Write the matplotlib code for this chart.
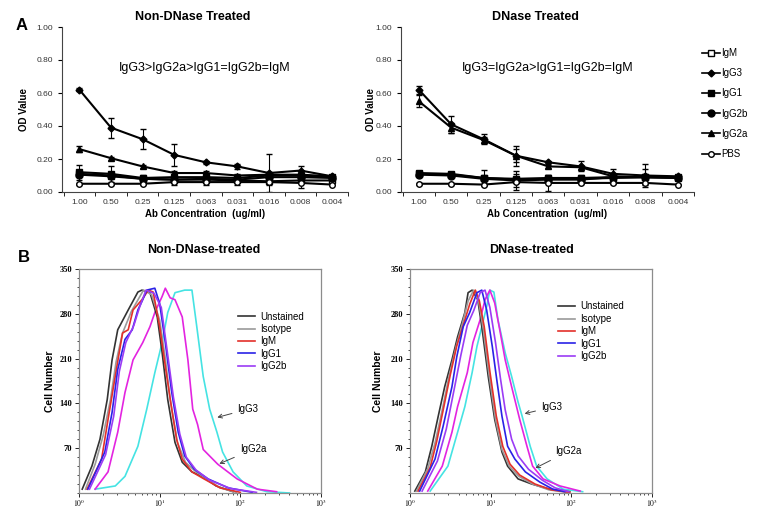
import numpy as np
import matplotlib
matplotlib.use('Agg')
import matplotlib.pyplot as plt
from matplotlib.lines import Line2D
from matplotlib.ticker import FixedLocator, NullFormatter

plt.rcParams['font.family'] = ['Liberation Sans', 'DejaVu Sans']
plt.rcParams['mathtext.fontset'] = 'stix'

# ---------------- Panel A data (ELISA OD values) ----------------
conc_labels = ['1.00', '0.50', '0.25', '0.125', '0.063', '0.031', '0.016', '0.008', '0.004']

nd_igm = [0.11, 0.10, 0.08, 0.075, 0.075, 0.07, 0.065, 0.07, 0.07]
nd_igg3 = [0.62, 0.39, 0.32, 0.225, 0.18, 0.155, 0.115, 0.13, 0.095]
nd_igg1 = [0.12, 0.11, 0.085, 0.09, 0.09, 0.085, 0.10, 0.10, 0.09]
nd_igg2b = [0.105, 0.095, 0.08, 0.075, 0.08, 0.075, 0.09, 0.09, 0.085]
nd_igg2a = [0.26, 0.205, 0.155, 0.115, 0.115, 0.10, 0.105, 0.105, 0.095]
nd_pbs = [0.05, 0.05, 0.05, 0.06, 0.06, 0.06, 0.06, 0.055, 0.045]
nd_igg3_err = [0.01, 0.06, 0.06, 0.065, 0.01, 0.015, 0.115, 0.03, 0.01]
nd_igg2a_err = [0.02, 0.01, 0.01, 0.01, 0.01, 0.01, 0.01, 0.01, 0.01]
nd_igg1_err = [0.045, 0.05, 0.02, 0.02, 0.02, 0.02, 0.02, 0.03, 0.01]
nd_pbs_err = [0.005, 0.005, 0.005, 0.02, 0.02, 0.02, 0.02, 0.03, 0.005]

d_igm = [0.11, 0.105, 0.085, 0.075, 0.08, 0.08, 0.085, 0.09, 0.085]
d_igg3 = [0.62, 0.41, 0.32, 0.22, 0.18, 0.155, 0.11, 0.10, 0.095]
d_igg1 = [0.115, 0.11, 0.085, 0.08, 0.085, 0.085, 0.09, 0.09, 0.09]
d_igg2b = [0.105, 0.10, 0.08, 0.07, 0.075, 0.075, 0.09, 0.09, 0.085]
d_igg2a = [0.55, 0.39, 0.315, 0.22, 0.155, 0.15, 0.095, 0.09, 0.09]
d_pbs = [0.05, 0.05, 0.045, 0.06, 0.055, 0.055, 0.055, 0.055, 0.045]
d_igg3_err = [0.025, 0.05, 0.03, 0.06, 0.01, 0.03, 0.03, 0.07, 0.01]
d_igg2a_err = [0.035, 0.03, 0.02, 0.04, 0.01, 0.01, 0.01, 0.01, 0.01]
d_igg1_err = [0.01, 0.01, 0.05, 0.05, 0.02, 0.02, 0.02, 0.05, 0.01]
d_pbs_err = [0.005, 0.005, 0.005, 0.05, 0.05, 0.005, 0.005, 0.005, 0.005]

# ---------------- Panel B data (histograms: log10 intensity, cell count) ----------------
nd_unst_x = [0.04, 0.16, 0.26, 0.35, 0.41, 0.48, 0.61, 0.73, 0.78, 0.88, 0.97, 1.03, 1.10, 1.19, 1.28, 1.40, 1.54, 1.70, 1.91]
nd_unst_y = [6, 42, 84, 146, 208, 255, 286, 314, 317, 313, 275, 220, 146, 79, 48, 33, 25, 11, 2]
nd_iso_x = [0.08, 0.20, 0.30, 0.39, 0.46, 0.54, 0.65, 0.80, 0.90, 1.00, 1.07, 1.13, 1.22, 1.32, 1.45, 1.58, 1.75, 1.95]
nd_iso_y = [6, 45, 90, 146, 205, 250, 284, 317, 310, 270, 210, 146, 79, 48, 33, 22, 8, 1]
nd_igm_x = [0.10, 0.28, 0.36, 0.47, 0.54, 0.61, 0.67, 0.78, 0.86, 0.92, 1.00, 1.07, 1.15, 1.21, 1.28, 1.40, 1.55, 1.75, 2.00]
nd_igm_y = [6, 53, 115, 198, 250, 255, 286, 302, 317, 314, 260, 198, 131, 84, 53, 33, 22, 8, 1]
nd_igg1_x = [0.11, 0.32, 0.41, 0.48, 0.57, 0.66, 0.73, 0.79, 0.84, 0.94, 1.00, 1.07, 1.15, 1.23, 1.31, 1.43, 1.60, 1.85, 2.15]
nd_igg1_y = [6, 64, 126, 193, 240, 255, 286, 302, 317, 320, 296, 235, 157, 95, 58, 37, 22, 8, 1]
nd_igg2b_x = [0.13, 0.33, 0.43, 0.50, 0.58, 0.68, 0.75, 0.83, 0.93, 1.02, 1.09, 1.17, 1.25, 1.33, 1.45, 1.62, 1.88, 2.20]
nd_igg2b_y = [6, 60, 120, 190, 235, 262, 290, 317, 312, 290, 225, 150, 92, 56, 36, 20, 7, 1]
nd_igg2a_x = [0.20, 0.36, 0.48, 0.57, 0.67, 0.79, 0.88, 0.94, 1.03, 1.07, 1.13, 1.19, 1.28, 1.35, 1.41, 1.47, 1.54, 1.72, 1.96, 2.21, 2.45]
nd_igg2a_y = [6, 33, 95, 157, 208, 235, 260, 282, 307, 320, 305, 302, 275, 208, 131, 107, 68, 45, 22, 6, 2]
nd_igg3_x = [0.20, 0.45, 0.57, 0.73, 0.84, 0.94, 1.03, 1.10, 1.19, 1.31, 1.40, 1.46, 1.54, 1.62, 1.71, 1.78, 1.91, 2.08, 2.33, 2.61]
nd_igg3_y = [6, 11, 26, 73, 131, 188, 235, 282, 313, 317, 317, 260, 182, 131, 95, 64, 33, 11, 2, 0]

d_unst_x = [0.06, 0.19, 0.27, 0.35, 0.43, 0.52, 0.59, 0.68, 0.72, 0.77, 0.84, 0.89, 0.97, 1.05, 1.14, 1.21, 1.34, 1.51, 1.73, 1.98]
d_unst_y = [3, 33, 73, 120, 166, 208, 244, 282, 313, 317, 302, 260, 182, 115, 64, 42, 22, 14, 6, 2]
d_iso_x = [0.08, 0.22, 0.31, 0.40, 0.48, 0.57, 0.65, 0.72, 0.79, 0.85, 0.91, 0.98, 1.06, 1.14, 1.23, 1.35, 1.52, 1.72, 1.95]
d_iso_y = [3, 38, 78, 130, 180, 228, 265, 300, 317, 300, 255, 185, 115, 68, 42, 26, 14, 5, 1]
d_igm_x = [0.10, 0.25, 0.33, 0.42, 0.50, 0.58, 0.66, 0.74, 0.81, 0.86, 0.92, 0.99, 1.07, 1.15, 1.24, 1.36, 1.55, 1.75, 1.98]
d_igm_y = [3, 40, 80, 135, 185, 230, 262, 295, 317, 300, 260, 190, 120, 73, 45, 28, 14, 5, 1]
d_igg1_x = [0.12, 0.31, 0.41, 0.52, 0.58, 0.66, 0.74, 0.83, 0.89, 0.95, 1.02, 1.08, 1.14, 1.21, 1.30, 1.43, 1.61, 1.77, 1.92]
d_igg1_y = [3, 53, 104, 166, 213, 260, 282, 313, 317, 286, 229, 173, 120, 73, 53, 33, 17, 6, 2]
d_igg2b_x = [0.15, 0.34, 0.45, 0.56, 0.63, 0.71, 0.79, 0.87, 0.93, 0.99, 1.06, 1.12, 1.18, 1.26, 1.34, 1.47, 1.64, 1.80, 1.97]
d_igg2b_y = [3, 50, 100, 170, 215, 262, 285, 313, 317, 290, 235, 180, 130, 84, 58, 37, 20, 8, 2]
d_igg2a_x = [0.22, 0.40, 0.52, 0.59, 0.71, 0.78, 0.87, 0.93, 0.99, 1.05, 1.12, 1.18, 1.26, 1.36, 1.45, 1.52, 1.65, 1.86, 2.11]
d_igg2a_y = [3, 42, 95, 135, 188, 235, 271, 302, 317, 297, 250, 208, 166, 115, 73, 42, 22, 11, 3]
d_igg3_x = [0.25, 0.47, 0.59, 0.68, 0.77, 0.83, 0.89, 0.95, 0.99, 1.04, 1.09, 1.18, 1.26, 1.34, 1.39, 1.49, 1.57, 1.70, 1.90, 2.14]
d_igg3_y = [3, 42, 95, 135, 188, 229, 260, 291, 317, 314, 271, 219, 182, 142, 120, 73, 42, 22, 6, 2]

hist_names = ['Unstained', 'Isotype', 'IgM', 'IgG1', 'IgG2b']
hist_colors = {'Unstained': '#333333', 'Isotype': '#9a9a9a', 'IgM': '#e3302a',
               'IgG1': '#2a22e6', 'IgG2b': '#9b3cf5', 'IgG2a': '#e324e0', 'IgG3': '#45e3e3'}

W, H = 761, 508
fig = plt.figure(figsize=(W / 100, H / 100), dpi=100)


def fx(px):
    return px / W


def fy(py):
    return 1 - py / H


# ---------------- Panel A ----------------
def elisa_panel(rect, series, title_x, title, note, ylab_x):
    ax = fig.add_axes(rect)
    x = np.arange(len(conc_labels))
    for vals, err, marker, ms, mfc in series:
        ax.errorbar(x, vals, yerr=err, color='black', lw=1.5, marker=marker, ms=ms,
                    mfc=mfc, mec='black', mew=1, elinewidth=0.8, capsize=2.5, capthick=0.8)
    ax.set_xlim(-0.55, 8.5)
    ax.set_ylim(0, 1.0)
    ax.set_yticks(np.arange(0, 1.01, 0.2))
    ax.set_yticklabels([f'{v:.2f}' for v in np.arange(0, 1.01, 0.2)])
    ax.set_xticks(x)
    ax.set_xticklabels(conc_labels)
    ax.xaxis.set_minor_locator(FixedLocator(np.arange(-0.5, 8.6, 1)))
    ax.tick_params(axis='x', which='major', length=0, pad=5, labelsize=6, colors='#333333')
    ax.tick_params(axis='x', which='minor', length=3, direction='out')
    ax.tick_params(axis='y', length=3, labelsize=6, labelcolor='#333333')
    for s in ['top', 'right']:
        ax.spines[s].set_visible(False)
    for s in ['left', 'bottom']:
        ax.spines[s].set_color('#444444')
    ax.set_ylabel('OD Value', fontsize=7, fontweight='bold')
    ax.yaxis.set_label_coords(ylab_x, 0.5)
    ax.set_xlabel('Ab Concentration  (ug/ml)', fontsize=7, fontweight='bold')
    ax.xaxis.set_label_coords(0.5, -0.105)
    ax.text(0.5, 0.75, note, transform=ax.transAxes, ha='center', va='center', fontsize=9)
    fig.text(fx(title_x), fy(17), title, ha='center', va='center', fontsize=9, fontweight='bold')
    return ax


nd_series = [
    (nd_igm, None, 's', 4.5, 'white'),
    (nd_igg3, nd_igg3_err, 'D', 3.5, 'black'),
    (nd_igg1, nd_igg1_err, 's', 5, 'black'),
    (nd_igg2b, None, 'o', 5, 'black'),
    (nd_igg2a, nd_igg2a_err, '^', 5, 'black'),
    (nd_pbs, nd_pbs_err, 'o', 4, 'white'),
]
d_series = [
    (d_igm, None, 's', 4.5, 'white'),
    (d_igg3, d_igg3_err, 'D', 3.5, 'black'),
    (d_igg1, d_igg1_err, 's', 5, 'black'),
    (d_igg2b, None, 'o', 5, 'black'),
    (d_igg2a, d_igg2a_err, '^', 5, 'black'),
    (d_pbs, d_pbs_err, 'o', 4, 'white'),
]

axA1 = elisa_panel([fx(62), fy(192), fx(348 - 62), (192 - 27) / H], nd_series, 193,
                   'Non-DNase Treated', 'IgG3>IgG2a>IgG1=IgG2b=IgM', -0.115)
axA2 = elisa_panel([fx(401), fy(192), fx(694 - 401), (192 - 27) / H], d_series, 535,
                   'DNase Treated', 'IgG3=IgG2a>IgG1=IgG2b=IgM', -0.085)

legA_names = ['IgM', 'IgG3', 'IgG1', 'IgG2b', 'IgG2a', 'PBS']
legA_handles = [Line2D([], [], color='black', lw=1.2, marker=m, ms=ms, mfc=mfc, mec='black')
                for _, _, m, ms, mfc in nd_series]
fig.legend(legA_handles, legA_names, loc='upper left', bbox_to_anchor=(fx(702), fy(48)),
           frameon=False, fontsize=7, labelspacing=1.05, handlelength=1.8,
           handletextpad=0.2, borderpad=0, borderaxespad=0)

fig.text(fx(22), fy(26), 'A', ha='center', va='center', fontsize=12, fontweight='bold')

# ---------------- Panel B ----------------
def hist_panel(left, curves, title_x, title, ylab_x, leg_anchor, notes):
    ax = fig.add_axes([fx(left), fy(493), fx(242), (493 - 269) / H])
    for name, xs, ys in curves:
        ax.plot(10 ** np.array(xs), ys, color=hist_colors[name], lw=1.2)
    ax.set_xscale('log')
    ax.set_xlim(1, 1000)
    ax.set_ylim(0, 350)
    ax.set_yticks([70, 140, 210, 280, 350])
    ax.yaxis.set_minor_locator(FixedLocator(np.arange(0, 351, 14)))
    ax.set_xticks([1, 10, 100, 1000])
    ax.set_xticklabels([r'$10^0$', r'$10^1$', r'$10^2$', r'$10^3$'])
    ax.xaxis.set_minor_formatter(NullFormatter())
    ax.tick_params(which='major', length=3, width=0.6, labelsize=6, pad=2)
    ax.tick_params(axis='x', which='major', labelsize=5.5, pad=0)
    ax.tick_params(which='minor', length=1.5, width=0.5)
    for lbl in ax.get_yticklabels():
        lbl.set_family('Liberation Serif')
        lbl.set_fontweight('bold')
    for s in ax.spines.values():
        s.set_color('#8c8c8c')
        s.set_linewidth(0.9)
    ax.set_ylabel('Cell Number', fontsize=7.5, fontweight='bold')
    ax.yaxis.set_label_coords(ylab_x, 0.5)
    handles = [Line2D([], [], color=hist_colors[n], lw=1.2) for n in hist_names]
    ax.legend(handles, hist_names, loc='upper left', bbox_to_anchor=leg_anchor, frameon=False,
              fontsize=7, labelspacing=0.25, handlelength=1.8, handletextpad=0.5,
              borderpad=0, borderaxespad=0)
    for label, tip, txt in notes:
        ax.annotate(label, xy=tip, xytext=txt, fontsize=7, ha='left', va='center',
                    arrowprops=dict(arrowstyle='->', color='#444444', lw=0.7))
    fig.text(fx(title_x), fy(250), title, ha='center', va='center', fontsize=9, fontweight='bold')
    return ax


nd_curves = [('IgG3', nd_igg3_x, nd_igg3_y), ('IgG2a', nd_igg2a_x, nd_igg2a_y),
             ('Unstained', nd_unst_x, nd_unst_y), ('Isotype', nd_iso_x, nd_iso_y),
             ('IgM', nd_igm_x, nd_igm_y), ('IgG1', nd_igg1_x, nd_igg1_y),
             ('IgG2b', nd_igg2b_x, nd_igg2b_y)]
d_curves = [('IgG3', d_igg3_x, d_igg3_y), ('IgG2a', d_igg2a_x, d_igg2a_y),
            ('Unstained', d_unst_x, d_unst_y), ('Isotype', d_iso_x, d_iso_y),
            ('IgM', d_igm_x, d_igm_y), ('IgG1', d_igg1_x, d_igg1_y),
            ('IgG2b', d_igg2b_x, d_igg2b_y)]

hist_panel(79, nd_curves, 204, 'Non-DNase-treated', -0.10, (0.655, 0.81),
           [('IgG3', (48, 117), (92, 131)), ('IgG2a', (51, 44), (98, 68))])
hist_panel(410, d_curves, 532, 'DNase-treated', -0.11, (0.61, 0.855),
           [('IgG3', (24.4, 123), (42, 134)), ('IgG2a', (33.4, 37), (63, 65))])

fig.text(fx(24), fy(257), 'B', ha='center', va='center', fontsize=12, fontweight='bold')

fig.savefig('out.png', dpi=100)
